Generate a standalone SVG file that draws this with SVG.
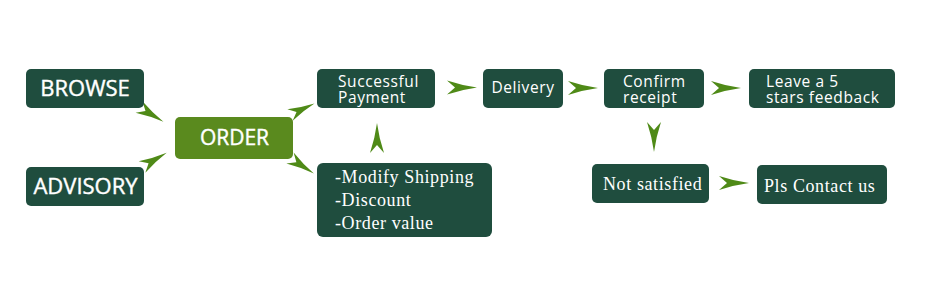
<svg xmlns="http://www.w3.org/2000/svg" xmlns:xlink="http://www.w3.org/1999/xlink" width="935" height="293" viewBox="0 0 935 293">
<defs>
<style>
.box{fill:#1f4d3e;}
.order{fill:#5a8a1e;}
.cap{font-family:"Open Sans","Liberation Sans",sans-serif;fill:#ffffff;text-anchor:middle;stroke:#ffffff;stroke-width:0.4px;}
.sans{font-family:"Open Sans","Liberation Sans",sans-serif;font-size:15.5px;fill:#ffffff;letter-spacing:0.6px;}
.serif{font-family:"Liberation Serif","Times New Roman",serif;font-size:18px;fill:#ffffff;letter-spacing:0.6px;}
.arr{fill:#4f8a17;}
</style>
<path id="dart" d="M0,-7 Q15,-2 30,0 Q15,2 0,7 L8,0 Z"/>
</defs>
<rect width="935" height="293" fill="#ffffff"/>

<g id="connectors" class="arr">
<use xlink:href="#dart" href="#dart" transform="translate(139,107) rotate(31) scale(0.95)"/>
<use xlink:href="#dart" href="#dart" transform="translate(142,167) rotate(-30) scale(0.95)"/>
<use xlink:href="#dart" href="#dart" transform="translate(290,115) rotate(-25) scale(0.9)"/>
<use xlink:href="#dart" href="#dart" transform="translate(290,158) rotate(33) scale(0.95)"/>
<use xlink:href="#dart" href="#dart" transform="translate(377,153) rotate(-90)"/>
<use xlink:href="#dart" href="#dart" transform="translate(447,87.5)"/>
<use xlink:href="#dart" href="#dart" transform="translate(568,88)"/>
<use xlink:href="#dart" href="#dart" transform="translate(711,88)"/>
<use xlink:href="#dart" href="#dart" transform="translate(654,122) rotate(90)"/>
<use xlink:href="#dart" href="#dart" transform="translate(719,183)"/>
</g>

<g id="browse">
<rect class="box" x="26" y="69" width="118" height="39" rx="5"/>
<text class="cap" x="85" y="95.5" font-size="22">BROWSE</text>
</g>
<g id="advisory">
<rect class="box" x="26" y="167" width="118" height="39" rx="5"/>
<text class="cap" x="85.5" y="193.5" font-size="22">ADVISORY</text>
</g>
<g id="order">
<rect class="order" x="175" y="117" width="118" height="42" rx="5"/>
<text class="cap" x="234.5" y="144.5" font-size="21">ORDER</text>
</g>
<g id="payment">
<rect class="box" x="317" y="69" width="118" height="39" rx="5"/>
<text class="sans" x="338" y="86.5">Successful</text>
<text class="sans" x="338" y="103">Payment</text>
</g>
<g id="delivery">
<rect class="box" x="483" y="69" width="80" height="39" rx="5"/>
<text class="sans" x="523" y="93" text-anchor="middle">Delivery</text>
</g>
<g id="confirm">
<rect class="box" x="604" y="69" width="100" height="39" rx="5"/>
<text class="sans" x="623" y="86.5">Confirm</text>
<text class="sans" x="623" y="102.5">receipt</text>
</g>
<g id="feedback">
<rect class="box" x="749" y="69" width="146" height="39" rx="5"/>
<text class="sans" x="766" y="86.5">Leave a 5</text>
<text class="sans" x="766" y="102.5">stars feedback</text>
</g>
<g id="modify">
<rect class="box" x="317" y="163" width="175" height="74" rx="6"/>
<text class="serif" x="335" y="182.5">-Modify Shipping</text>
<text class="serif" x="335" y="205.5">-Discount</text>
<text class="serif" x="335" y="229">-Order value</text>
</g>
<g id="notsatisfied">
<rect class="box" x="592" y="164" width="117" height="39" rx="5"/>
<text class="serif" x="603" y="190">Not satisfied</text>
</g>
<g id="contact">
<rect class="box" x="757" y="165" width="130" height="39" rx="5"/>
<text class="serif" x="764" y="191.5" font-size="19">Pls Contact us</text>
</g>
</svg>
